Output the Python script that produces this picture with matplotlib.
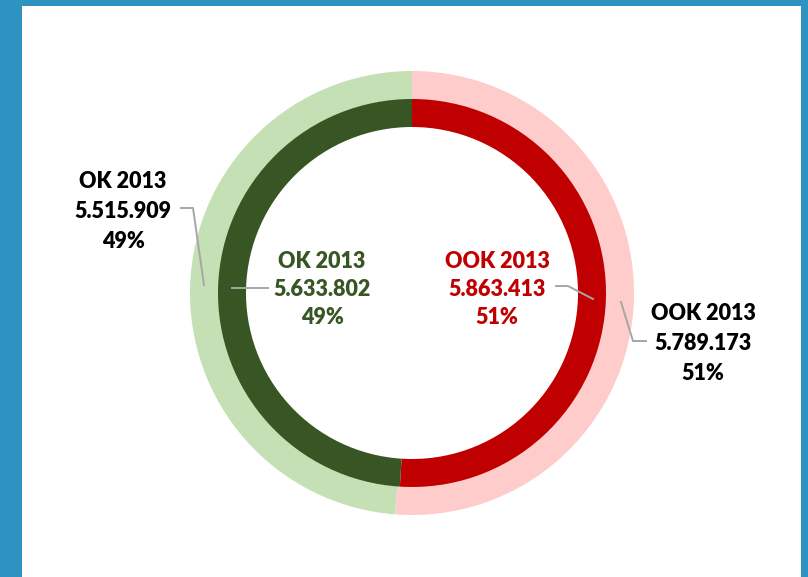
import matplotlib
matplotlib.use('Agg')
import matplotlib.pyplot as plt
from matplotlib.patches import Rectangle

plt.rcParams['font.family'] = ['Lato', 'DejaVu Sans']

# データ
categories = ['OOK 2013', 'OK 2013']
inner_values = [5863413, 5633802]   # 2013 内側
outer_values = [5789173, 5515909]   # 2013 外側
inner_colors = ['#C00000', '#375623']
outer_colors = ['#FFCCCC', '#C5E0B4']

W, H = 808, 577


def fmt(v):
    return f"{v:,}".replace(',', '.')


def pct(v, vals):
    return f"{round(100 * v / sum(vals))}%"


fig = plt.figure(figsize=(W / 100, H / 100), dpi=100)
fig.patch.set_facecolor('#2F93C2')
ax = fig.add_axes([0, 0, 1, 1])
ax.set_xlim(0, W)
ax.set_ylim(0, H)
ax.axis('off')

# 白いパネル
ax.add_patch(Rectangle((22, 0), 779, H - 6, facecolor='white', edgecolor='none', zorder=0))

cx, cy = 412, H - 293
ax.pie(outer_values, colors=outer_colors, radius=222, center=(cx, cy),
       startangle=90, counterclock=False,
       wedgeprops=dict(width=29, edgecolor='none'))
ax.pie(inner_values, colors=inner_colors, radius=194, center=(cx, cy),
       startangle=90, counterclock=False,
       wedgeprops=dict(width=28, edgecolor='none'))
ax.set_xlim(0, W)
ax.set_ylim(0, H)
ax.set_aspect('auto')

lead = dict(color='#A6A6A6', lw=1.4, zorder=5)


def label(x, y, cat, v, vals, color, gap=29):
    for i, s in enumerate([cat, fmt(v), pct(v, vals)]):
        ax.text(x, H - (y + i * gap), s, ha='center', va='center',
                fontsize=15.5, fontweight='heavy', color=color)


def leader(pts):
    ax.plot([p[0] for p in pts], [H - p[1] for p in pts], **lead)


# 外側ラベル
label(123, 181, categories[1], outer_values[1], outer_values, 'black', 30)
leader([(181, 208), (193, 208), (204, 285)])
label(703, 313, categories[0], outer_values[0], outer_values, 'black', 30)
leader([(621, 302), (633, 341), (646, 341)])

# 内側ラベル
label(322, 262, categories[1], inner_values[1], inner_values, '#375623', 28)
leader([(232, 288), (268, 288)])
label(497, 262, categories[0], inner_values[0], inner_values, '#C00000', 28)
leader([(556, 286), (568, 286), (593, 299)])

fig.savefig('out.png', dpi=100, facecolor=fig.get_facecolor())
